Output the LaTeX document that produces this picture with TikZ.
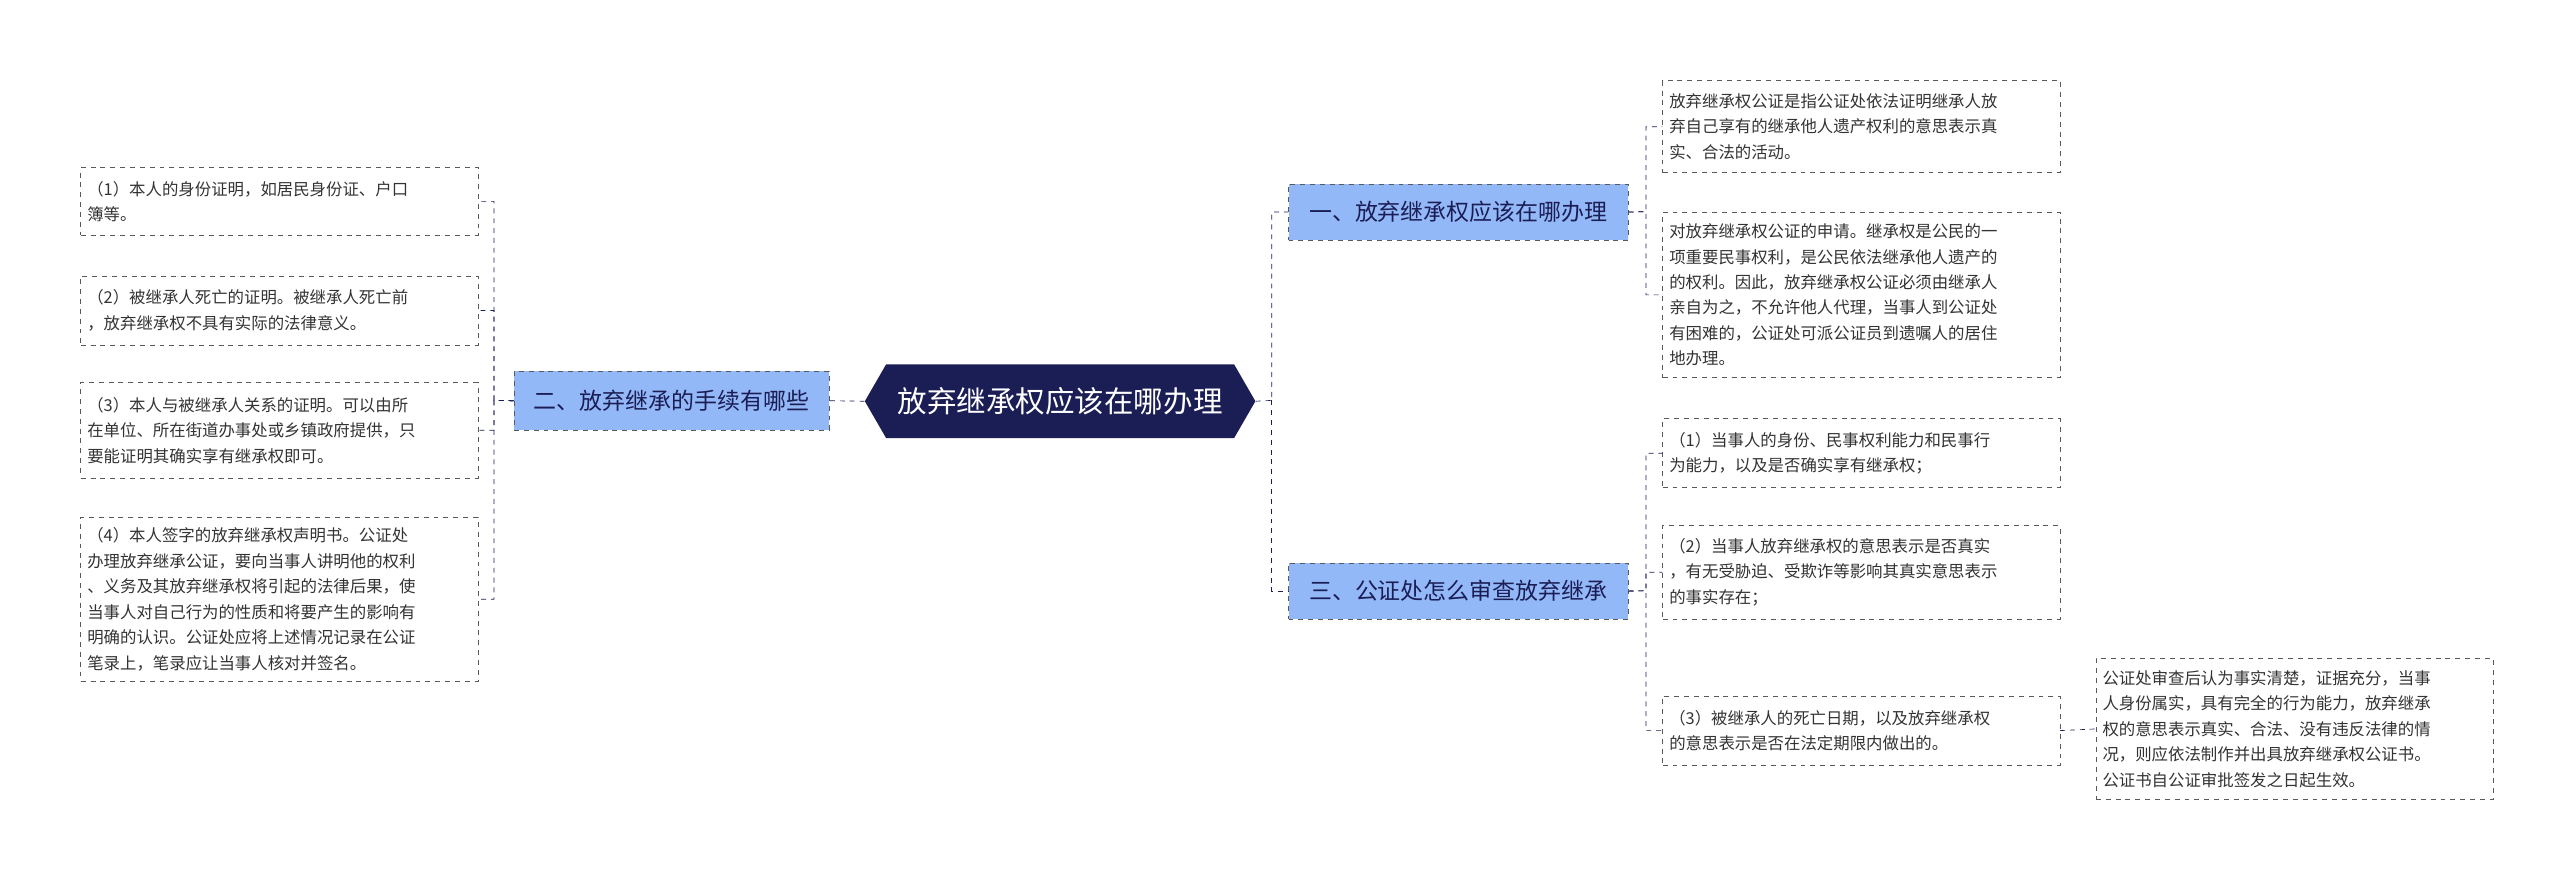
\documentclass[tikz,border=0pt]{standalone}
\usepackage{fontspec}
\setmainfont{Noto Sans CJK SC}
\usetikzlibrary{shapes.symbols}
\definecolor{navy}{HTML}{1B1D55}
\definecolor{bfill}{HTML}{93B8F7}
\definecolor{txt}{HTML}{333333}
\tikzset{
 leaf/.style={draw=gray!70!black,dashed,fill=white,anchor=north west,align=left,inner sep=4pt,font=\fontsize{10}{15.5}\selectfont,text=txt},
 branch/.style={draw=gray!70!black,dashed,fill=bfill,anchor=north west,align=center,inner sep=2pt,font=\fontsize{14}{16}\selectfont,text=navy},
 conn/.style={draw=navy,dashed,thin}
}
\begin{document}
\begin{tikzpicture}[x=1pt,y=1pt]
\useasboundingbox[fill=white] (0,0) rectangle (1560,-534);
\node[signal,signal to=west and east,signal pointer angle=120,fill=navy,text=white,font=\fontsize{18}{20}\selectfont,minimum width=238,minimum height=45,inner sep=2pt] (c) at (646,-244.5) {放弃继承权应该在哪办理};
\node[branch,minimum width=192,minimum height=36] (lb) at (313,-226) {二、放弃继承的手续有哪些};
\node[branch,minimum width=207,minimum height=34] (r1) at (785,-112) {一、放弃继承权应该在哪办理};
\node[branch,minimum width=207,minimum height=34] (r3) at (785,-343) {三、公证处怎么审查放弃继承};
\node[leaf,text width=234,minimum height=41] (L1) at (49,-102) {（1）本人的身份证明，如居民身份证、户口\\簿等。};
\node[leaf,text width=234,minimum height=42] (L2) at (49,-168) {（2）被继承人死亡的证明。被继承人死亡前\\，放弃继承权不具有实际的法律意义。};
\node[leaf,text width=234,minimum height=58] (L3) at (49,-233) {（3）本人与被继承人关系的证明。可以由所\\在单位、所在街道办事处或乡镇政府提供，只\\要能证明其确实享有继承权即可。};
\node[leaf,text width=234,minimum height=100] (L4) at (49,-315) {（4）本人签字的放弃继承权声明书。公证处\\办理放弃继承公证，要向当事人讲明他的权利\\、义务及其放弃继承权将引起的法律后果，使\\当事人对自己行为的性质和将要产生的影响有\\明确的认识。公证处应将上述情况记录在公证\\笔录上，笔录应让当事人核对并签名。};
\node[leaf,text width=234,minimum height=56] (A1) at (1013,-49) {放弃继承权公证是指公证处依法证明继承人放\\弃自己享有的继承他人遗产权利的意思表示真\\实、合法的活动。};
\node[leaf,text width=234,minimum height=101] (A2) at (1013,-129) {对放弃继承权公证的申请。继承权是公民的一\\项重要民事权利，是公民依法继承他人遗产的\\的权利。因此，放弃继承权公证必须由继承人\\亲自为之，不允许他人代理，当事人到公证处\\有困难的，公证处可派公证员到遗嘱人的居住\\地办理。};
\node[leaf,text width=234,minimum height=42] (B1) at (1013,-255) {（1）当事人的身份、民事权利能力和民事行\\为能力，以及是否确实享有继承权；};
\node[leaf,text width=234,minimum height=57] (B2) at (1013,-320) {（2）当事人放弃继承权的意思表示是否真实\\，有无受胁迫、受欺诈等影响其真实意思表示\\的事实存在；};
\node[leaf,text width=234,minimum height=42] (B3) at (1013,-424) {（3）被继承人的死亡日期，以及放弃继承权\\的意思表示是否在法定期限内做出的。};
\node[leaf,text width=234,minimum height=86] (C1) at (1277,-401) {公证处审查后认为事实清楚，证据充分，当事\\人身份属实，具有完全的行为能力，放弃继承\\权的意思表示真实、合法、没有违反法律的情\\况，则应依法制作并出具放弃继承权公证书。\\公证书自公证审批签发之日起生效。};
\coordinate (lj) at (301,-244);
\coordinate (cj) at (775,-244);
\coordinate (j1) at (1003,-129);
\coordinate (j3) at (1003,-360);
\draw[conn] (c.west) -- (lb.east);
\foreach \n in {L1,L2,L3,L4} \draw[conn] (lb.west) -- (lj) |- (\n.east);
\draw[conn] (c.east) -- (cj) |- (r1.west);
\draw[conn] (cj) |- (r3.west);
\foreach \n in {A1,A2} \draw[conn] (r1.east) -- (j1) |- (\n.west);
\foreach \n in {B1,B2,B3} \draw[conn] (r3.east) -- (j3) |- (\n.west);
\draw[conn] (B3.east) -- (C1.west);
\end{tikzpicture}
\end{document}
